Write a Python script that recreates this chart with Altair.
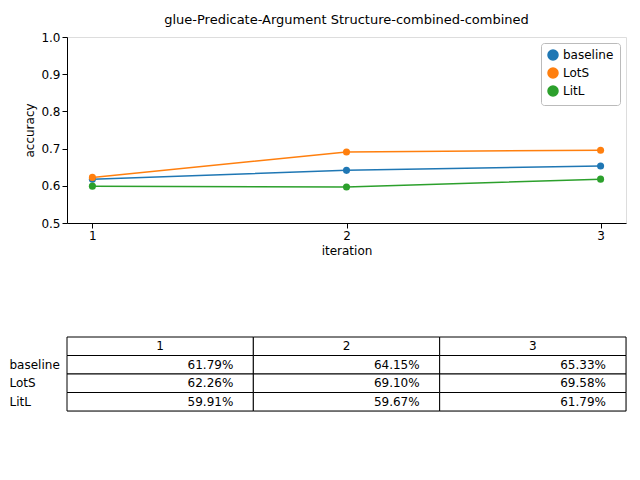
import altair as alt
import pandas as pd

iterations = [1, 2, 3]
series = ["baseline", "LotS", "LitL"]
baseline = [0.6179, 0.6415, 0.6533]
lots = [0.6226, 0.6910, 0.6958]
litl = [0.5991, 0.5967, 0.6179]
colors = ["#1f77b4", "#ff7f0e", "#2ca02c"]

rows = []
for name, vals in zip(series, [baseline, lots, litl]):
    for it, v in zip(iterations, vals):
        rows.append({"iteration": it, "series": name, "accuracy": v,
                     "label": f"{v*100:.2f}%", "col": str(it)})
df = pd.DataFrame(rows)

color = alt.Color("series:N", scale=alt.Scale(domain=series, range=colors),
                  sort=series,
                  legend=alt.Legend(title=None, orient="top-right", symbolType="circle",
                                    strokeColor="#bbb", padding=6, labelFontSize=12,
                                    fillColor="white", cornerRadius=3, offset=6))
base = alt.Chart(df).encode(
    x=alt.X("iteration:Q", scale=alt.Scale(domain=[0.9, 3.1], nice=False),
            axis=alt.Axis(values=iterations, format="d", grid=False, title="iteration",
                          tickColor="black", domainColor="black", labelFontSize=12,
                          titleFontSize=12, titleFontWeight="normal", labelColor="black")),
    y=alt.Y("accuracy:Q", scale=alt.Scale(domain=[0.5, 1.0]),
            axis=alt.Axis(values=[0.5, 0.6, 0.7, 0.8, 0.9, 1.0], format=".1f", grid=False,
                          title="accuracy", tickColor="black", domainColor="black",
                          labelFontSize=12, titleFontSize=12, titleFontWeight="normal",
                          labelColor="black")),
    color=color,
)
top = (base.mark_line(strokeWidth=1.5) + base.mark_point(filled=True, size=50, opacity=1)).properties(
    width=559, height=186,
    title=alt.TitleParams("glue-Predicate-Argument Structure-combined-combined",
                          fontSize=13, fontWeight="normal", anchor="middle"))

rowdom = ["header"] + series
hdr = pd.DataFrame({"col": [str(i) for i in iterations], "row": "header", "label": [str(i) for i in iterations]})
tdf = pd.concat([df[["col", "series", "label"]].rename(columns={"series": "row"}), hdr])

xs = alt.X("col:N", scale=alt.Scale(domain=["1", "2", "3"], paddingInner=0, paddingOuter=0), axis=None)
ys = alt.Y("row:N", scale=alt.Scale(domain=rowdom, paddingInner=0, paddingOuter=0),
           axis=alt.Axis(title=None, domain=False, ticks=False, labelAlign="left",
                         labelPadding=58, labelFontSize=12, labelColor="black",
                         labelExpr="datum.value == 'header' ? '' : datum.value"))
cells = alt.Chart(tdf).mark_rect(fill="white", stroke="black", strokeWidth=1).encode(x=xs, y=ys)
nums = alt.Chart(tdf).transform_filter("datum.row != 'header'").mark_text(
    align="right", dx=-20, fontSize=12, color="black").encode(
    x=alt.X("col:N", bandPosition=1, scale=alt.Scale(domain=["1", "2", "3"], paddingInner=0, paddingOuter=0), axis=None),
    y=ys, text="label:N")
heads = alt.Chart(tdf).transform_filter("datum.row == 'header'").mark_text(
    align="center", fontSize=12, color="black").encode(x=xs, y=ys, text="label:N")
table = (cells + nums + heads).properties(width=559, height=74)

chart = alt.vconcat(top, table, spacing=114, bounds="flush").properties(
    padding={"left": 0, "top": 5, "right": 5, "bottom": 5}).configure_view(
    stroke="#000000", strokeOpacity=1, strokeWidth=1).configure(font="DejaVu Sans")
chart.save("out.html", embed_options={"renderer": "svg", "actions": False})
